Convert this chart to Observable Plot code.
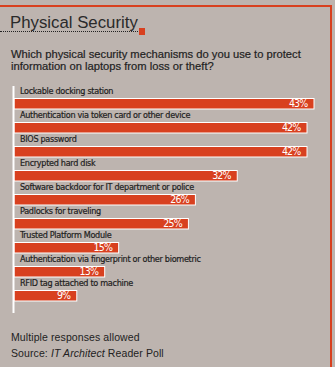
<!DOCTYPE html>
<html>
<head>
<meta charset="utf-8">
<script src="https://cdn.jsdelivr.net/npm/d3@7"></script>
<script src="https://cdn.jsdelivr.net/npm/@observablehq/plot@0.6"></script>
<style>
  html, body { margin: 0; padding: 0; background: #bdb4af; }
  #wrap { position: relative; width: 335px; height: 367px; background: #bdb4af; overflow: hidden; font-family: "Liberation Sans", Arial, sans-serif; color: #222; }
  .abs { position: absolute; white-space: nowrap; }
  #topline { left: 0; top: 5px; width: 332px; height: 2px; background: #d8401f; }
  #rightline { left: 330px; top: 5px; width: 2px; height: 362px; background: #d8401f; }
  #title { left: 10px; top: 12px; font-size: 16.8px; line-height: 22px; color: #2a2a2a; }
  #dots { left: 0; top: 31px; width: 138px; height: 0; border-top: 1px dotted #222; }
  #square { left: 138.5px; top: 28px; width: 6.5px; height: 6.5px; background: #d8401f; }
  #subtitle { left: 11px; top: 47.5px; font-size: 11.2px; line-height: 12px; -webkit-text-stroke: 0.2px #222; }
  #foot { left: 11px; top: 330px; font-size: 10.5px; line-height: 15.5px; letter-spacing: 0.1px; }
  #chart { left: 0; top: 80px; }
  #chart g[fill="white"] text { letter-spacing: -0.8px; }
  #chart g[fill="#1e1e1e"] text { letter-spacing: -0.3px; }
</style>
</head>
<body>
<div id="wrap">
  <div class="abs" id="topline"></div>
  <div class="abs" id="rightline"></div>
  <div class="abs" id="title">Physical Security</div>
  <div class="abs" id="dots"></div>
  <div class="abs" id="square"></div>
  <div class="abs" id="subtitle">Which physical security mechanisms do you use to protect<br>information on laptops from loss or theft?</div>
  <div class="abs" id="chart"></div>
  <div class="abs" id="foot">Multiple responses allowed<br>Source: <i>IT Architect</i> Reader Poll</div>
</div>
<script>
const categories = [
  "Lockable docking station",
  "Authentication via token card or other device",
  "BIOS password",
  "Encrypted hard disk",
  "Software backdoor for IT department or police",
  "Padlocks for traveling",
  "Trusted Platform Module",
  "Authentication via fingerprint or other biometric",
  "RFID tag attached to machine"
];
const values = [43, 42, 42, 32, 26, 25, 15, 13, 9];

const data = categories.map((c, i) => ({category: c, value: values[i]}));

const chart = Plot.plot({
  width: 335,
  height: 235,
  marginTop: 6,
  marginBottom: 2,
  marginLeft: 14,
  marginRight: 21,
  style: {background: "transparent", overflow: "visible"},
  x: {domain: [0, 43], range: [14, 314], axis: null},
  y: {type: "band", domain: categories, range: [4.5, 224.1], padding: 0, axis: null},
  marks: [
    Plot.barX(data, {x: "value", y: "category", fill: "#d8401f", stroke: "white", strokeWidth: 1, insetTop: 12.5, insetBottom: 1}),
    Plot.ruleX([0], {stroke: "white", strokeWidth: 2, dx: -1}),
    Plot.text(data, {x: 0, y: "category", text: "category", textAnchor: "start", dx: 5.5, dy: -7,
      fill: "#1e1e1e", stroke: "#1e1e1e", strokeWidth: 0.2, fontSize: 9, fontFamily: "'DejaVu Sans Condensed', sans-serif"}),
    Plot.text(data, {x: "value", y: "category", text: d => d.value + "%", textAnchor: "end", dx: -7, dy: 5,
      fill: "white", fontSize: 10.5, fontFamily: "'DejaVu Sans Condensed', sans-serif"})
  ]
});
document.getElementById("chart").appendChild(chart);
</script>
</body>
</html>
